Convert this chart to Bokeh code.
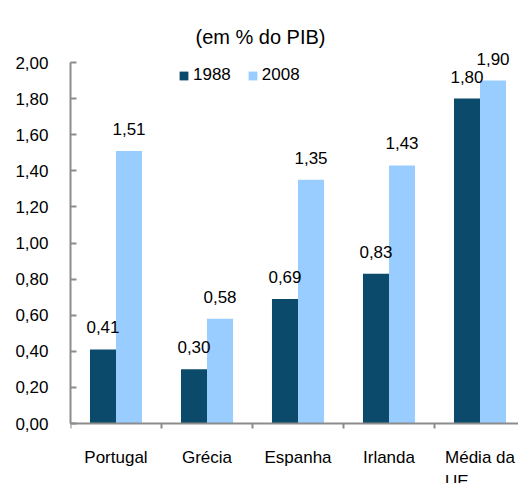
from bokeh.plotting import figure
from bokeh.models import (ColumnDataSource, Range1d, FixedTicker, CustomJSTickFormatter,
                          LabelSet, Label, Legend, LegendItem)
from bokeh.core.properties import value
from bokeh.embed import file_html
from bokeh.resources import INLINE

categories = ["Portugal", "Grécia", "Espanha", "Irlanda", "Média da\nUE"]
v1988 = [0.41, 0.30, 0.69, 0.83, 1.80]
v2008 = [1.51, 0.58, 1.35, 1.43, 1.90]
y_ticks = [0.0, 0.2, 0.4, 0.6, 0.8, 1.0, 1.2, 1.4, 1.6, 1.8, 2.0]
title_text = "(em % do PIB)"

DARK = "#0B4A6B"
LIGHT = "#99CCFF"
AXIS = "#8C8C8C"
FONT = "Liberation Sans"
FS = "17px"

W, H = 518, 483
LEFT = 70
PX_PER_CAT = 91.0
PX_PER_UNIT = 180.5
ZERO_FROM_BOTTOM = 60.0   # px from frame bottom to y=0
TOP_EXTRA = 62.0          # px from frame top to y=2.0

n = len(categories)
centers = [i + 0.5 for i in range(n)]
bw = 0.286
x1 = [c - bw / 2 for c in centers]
x2 = [c + bw / 2 for c in centers]

def fmt(v):
    return f"{v:.2f}".replace(".", ",")

src1 = ColumnDataSource(dict(x=x1, top=v1988, lab=[fmt(v) for v in v1988]))
src2 = ColumnDataSource(dict(x=x2, top=v2008, lab=[fmt(v) for v in v2008]))
srcc = ColumnDataSource(dict(x=centers, y=[0.0] * n, lab=categories))

ymax = max(y_ticks)
x_end = (W - LEFT) / PX_PER_CAT
y_start = -ZERO_FROM_BOTTOM / PX_PER_UNIT
y_end = ymax + TOP_EXTRA / PX_PER_UNIT

p = figure(width=W, height=H, x_range=Range1d(0, x_end), y_range=Range1d(y_start, y_end),
           output_backend="svg", toolbar_location=None, x_axis_location="above",
           min_border_left=LEFT, min_border_right=0, min_border_top=0, min_border_bottom=0)
p.outline_line_color = None
p.grid.visible = False
p.background_fill_color = "white"
p.border_fill_color = "white"

r1 = p.vbar(x="x", top="top", width=bw, source=src1, fill_color=DARK, line_color=None)
r2 = p.vbar(x="x", top="top", width=bw, source=src2, fill_color=LIGHT, line_color=None)

for s in (src1, src2):
    p.add_layout(LabelSet(x="x", y="top", text="lab", source=s, text_align="center",
                          text_baseline="alphabetic", y_offset=16,
                          text_font=value(FONT), text_font_size=FS, text_color="#000000"))

# category labels under the zero line
p.add_layout(LabelSet(x="x", y="y", text="lab", source=srcc, text_align="center",
                      text_baseline="top", y_offset=-24, text_line_height=1.3,
                      text_font=value(FONT), text_font_size=FS, text_color="#000000"))

# y axis
ya = p.yaxis[0]
ya.bounds = (0, ymax)
ya.ticker = FixedTicker(ticks=y_ticks, minor_ticks=[])
ya.formatter = CustomJSTickFormatter(code="return tick.toFixed(2).replace('.', ',');")
ya.axis_line_color = AXIS
ya.axis_line_width = 2
ya.major_tick_line_color = AXIS
ya.major_tick_line_width = 2
ya.major_tick_in = 6
ya.major_tick_out = 0
ya.minor_tick_line_color = None
ya.major_label_standoff = 22
ya.major_label_text_font = FONT
ya.major_label_text_font_size = FS
ya.major_label_text_color = "#000000"

# x axis drawn on the zero line, ticks at category boundaries pointing down
xa = p.xaxis[0]
xa.fixed_location = 0
xa.ticker = FixedTicker(ticks=[], minor_ticks=list(range(n)))
xa.axis_line_color = AXIS
xa.axis_line_width = 2
xa.major_tick_line_color = None
xa.major_tick_in = 0
xa.major_tick_out = 0
xa.minor_tick_line_color = AXIS
xa.minor_tick_line_width = 2
xa.minor_tick_in = 5
xa.minor_tick_out = 0
xa.major_label_standoff = 0
xa.major_label_text_font_size = "0px"

legend = Legend(items=[LegendItem(label="1988", renderers=[r1]),
                       LegendItem(label="2008", renderers=[r2])],
                orientation="horizontal", location=(108, 398),
                glyph_width=11, glyph_height=11, label_standoff=4, spacing=16,
                padding=0, margin=0, border_line_color=None, background_fill_alpha=0,
                label_text_font=FONT, label_text_font_size=FS, label_height=20,
                label_text_color="#000000")
p.add_layout(legend)

# title centred at ~2.09 categories, baseline ~387 px above zero line
p.add_layout(Label(x=190 / PX_PER_CAT, y=387 / PX_PER_UNIT, text=title_text,
                   text_align="center", text_baseline="alphabetic",
                   text_font=FONT, text_font_size="20px", text_color="#000000"))

open("out.html", "w").write(file_html(p, INLINE))
